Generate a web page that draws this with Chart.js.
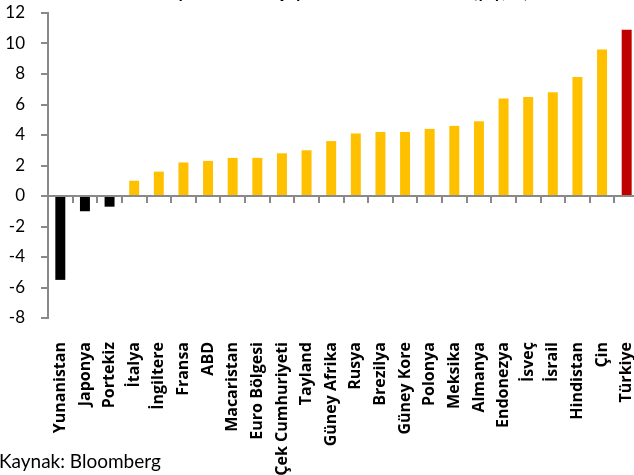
<!DOCTYPE html>
<html><head><meta charset="utf-8">
<script src="https://cdn.jsdelivr.net/npm/chart.js"></script>
<style>html,body{margin:0;padding:0;background:#fff;overflow:hidden;width:634px;height:475px;} canvas{display:block;}</style>
</head><body>
<canvas id="c" width="639" height="475"></canvas>
<script>
const categories = ["Yunanistan","Japonya","Portekiz","İtalya","İngiltere","Fransa","ABD","Macaristan","Euro Bölgesi","Çek Cumhuriyeti","Tayland","Güney Afrika","Rusya","Brezilya","Güney Kore","Polonya","Meksika","Almanya","Endonezya","İsveç","İsrail","Hindistan","Çin","Türkiye"];
const growth = [-5.5,-1.0,-0.7,1.0,1.6,2.2,2.3,2.5,2.5,2.8,3.0,3.6,4.1,4.2,4.2,4.4,4.6,4.9,6.4,6.5,6.8,7.8,9.6,10.9];
const highlight = "Türkiye";
const yMin = -8, yMax = 12, yStep = 2;
const titleText = "GSYH Büyüme Hızı 1. Çeyrek 2011 Ülke Verileri (y/y, %)";
const sourceText = "Kaynak: Bloomberg";

const colors = categories.map((c, i) => c === highlight ? "#C00000" : (growth[i] < 0 ? "#000000" : "#FFC000"));
const axisGray = "#898989";

const textPlugin = {
  id: "texts",
  afterDraw(chart) {
    const c = chart.ctx;
    c.save();
    c.fillStyle = "#000";
    c.font = 'bold 17px Lato';
    c.textAlign = "center";
    c.textBaseline = "alphabetic";
    c.fillText(titleText, 318, -2);
    c.font = '19px Lato';
    c.textAlign = "left";
    c.fillText(sourceText, -1, 468);
    c.restore();
  }
};

new Chart(document.getElementById("c"), {
  type: "bar",
  data: {
    labels: categories,
    datasets: [{
      data: growth,
      backgroundColor: colors,
      borderWidth: 0,
      barPercentage: 0.9,
      categoryPercentage: 0.45,
      xAxisID: "x",
      yAxisID: "y"
    }]
  },
  options: {
    responsive: false,
    animation: false,
    devicePixelRatio: 1,
    layout: { padding: { top: 13, right: 0, bottom: 0, left: 0 } },
    plugins: { legend: { display: false }, tooltip: { enabled: false }, title: { display: false } },
    scales: {
      x: {
        type: "category",
        position: "bottom",
        offset: true,
        grid: { display: false },
        border: { display: false },
        ticks: {
          autoSkip: false, minRotation: 90, maxRotation: 90, padding: 16,
          color: "#000", font: { family: "Open Sans", size: 16, weight: "bold" }
        },
        afterFit(s) { s.height = 157; s.paddingLeft = 0; s.paddingRight = 0; }
      },
      x2: {
        type: "category",
        axis: "x",
        labels: categories,
        position: { y: 0 },
        offset: true,
        grid: { display: true, offset: true, drawOnChartArea: false, drawTicks: true, tickLength: 6, color: axisGray, lineWidth: 2 },
        border: { display: true, color: axisGray, width: 2 },
        ticks: { display: false }
      },
      y: {
        min: yMin, max: yMax,
        ticks: { stepSize: yStep, padding: 16, color: "#000", font: { family: "Lato", size: 17 } },
        grid: { drawOnChartArea: false, drawTicks: true, tickLength: 7, color: axisGray, lineWidth: 2 },
        border: { color: axisGray, width: 2 },
        afterFit(s) { s.width = 48; s.paddingTop = 0; s.paddingBottom = 0; }
      }
    }
  },
  plugins: [textPlugin]
});
</script>
</body></html>
